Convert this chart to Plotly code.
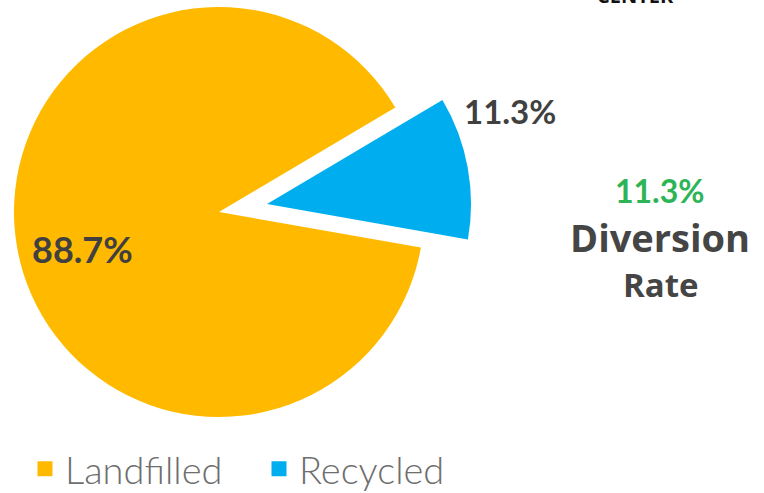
import plotly.graph_objects as go

labels = ["Landfilled", "Recycled"]
values = [88.7, 11.3]
colors = ["#FFBA00", "#00AEEF"]

W, H = 764, 493
R_MAIN, C_MAIN = 205, (219, 212)   # main pie radius / centre (px from top-left)
R_PULL, C_PULL = 204, (267, 204)   # exploded slice
ROT = 100

def dom(cx, cy, r):
    return dict(x=[max(0, (cx - r) / W), min(1, (cx + r) / W)],
                y=[max(0, 1 - (cy + r) / H), min(1, 1 - (cy - r) / H)])

def px(x, y):
    return x / W, 1 - y / H

total = sum(values)
pct = [f"{v / total * 100:.1f}%" for v in values]

fig = go.Figure()
fig.add_trace(go.Pie(labels=labels, values=values, sort=False, direction="clockwise",
                     rotation=ROT, marker=dict(colors=[colors[0], "rgba(0,0,0,0)"], line=dict(width=0)),
                     textinfo="none", hoverinfo="skip", showlegend=False,
                     domain=dom(*C_MAIN, R_MAIN)))
fig.add_trace(go.Pie(labels=labels, values=values, sort=False, direction="clockwise",
                     rotation=ROT, marker=dict(colors=["rgba(0,0,0,0)", colors[1]], line=dict(width=0)),
                     textinfo="none", hoverinfo="skip", showlegend=False,
                     domain=dom(*C_PULL, R_PULL)))
for lab, col in zip(labels, colors):
    fig.add_trace(go.Scatter(x=[None], y=[None], mode="markers", name=lab,
                             marker=dict(symbol="square", size=15, color=col)))

dark = "#404040"
anns = [
    (pct[0], 82, 249, 36, dark, "Lato"),
    (pct[1], 510, 111, 33, dark, "Lato"),
    (pct[1], 660, 191, 32, "#2DB457", "Lato"),
    ("Diversion", 660, 237, 38, "#454545", "Open Sans"),
    ("Rate", 661, 284, 33, "#454545", "Open Sans"),
]
for t, x, y, s, c, f in anns:
    xx, yy = px(x, y)
    fig.add_annotation(x=xx, y=yy, xref="paper", yref="paper", showarrow=False,
                       text=f"<b>{t}</b>",
                       font=dict(size=s, color=c, family=f), xanchor="center", yanchor="middle")

xx, yy = px(635, 11)
fig.add_annotation(x=xx, y=yy, xref="paper", yref="paper", showarrow=False,
                   text="<b>CENTER</b>", font=dict(size=20, color="#111111", family="Open Sans"),
                   xanchor="center", yanchor="bottom")

lx, ly = px(25, 469)
fig.update_layout(
    width=W, height=H,
    margin=dict(l=0, r=0, t=0, b=0, autoexpand=False),
    paper_bgcolor="white", plot_bgcolor="white",
    xaxis=dict(visible=False), yaxis=dict(visible=False),
    showlegend=True,
    legend=dict(orientation="h", x=lx, y=ly, xanchor="left", yanchor="middle",
                font=dict(size=38, color="#6E6E6E", family="Lato", weight=300),
                entrywidth=189, bgcolor="rgba(0,0,0,0)"),
    hovermode=False,
)
fig.write_html("out.html", config={"displayModeBar": False},
               post_script="document.body.style.margin='0';")
